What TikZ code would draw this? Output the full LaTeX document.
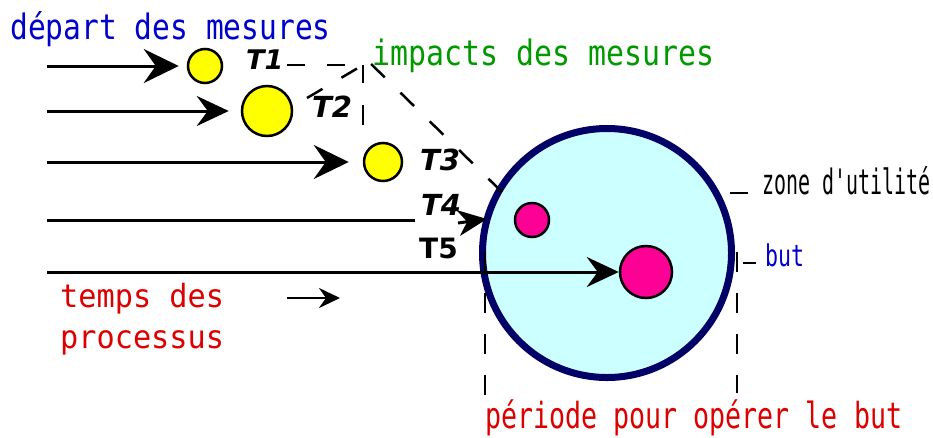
\documentclass[tikz,border=0pt]{standalone}
\usepackage{fontspec}
\usepackage{graphicx}
\usetikzlibrary{arrows.meta}
\newfontfamily\monof{DejaVu Sans Mono}
\newfontfamily\tfont{DejaVu Sans}
\definecolor{navyc}{RGB}{0,0,102}
\definecolor{lcyan}{RGB}{204,255,255}
\definecolor{magc}{RGB}{255,0,150}
\definecolor{yelc}{RGB}{255,255,0}
\definecolor{bluec}{RGB}{0,0,204}
\definecolor{greenc}{RGB}{0,153,0}
\definecolor{redc}{RGB}{221,0,0}
\newcommand\lbltxt[3]{{\fontsize{#1pt}{#1pt}\selectfont\scalebox{#2}[1]{#3}}}
\begin{document}
\begin{tikzpicture}[x=1pt,y=-1pt,
  txt/.style={anchor=base west,inner sep=0pt,font=\monof},
  tlab/.style={anchor=base west,inner sep=0pt,font=\tfont\bfseries\itshape\fontsize{29pt}{29pt}\selectfont},
  ball/.style={circle,draw=black,line width=2.5pt,inner sep=0pt},
  bigarrow/.style={line width=3pt,-{Stealth[length=35pt,width=34pt,inset=12pt]}},
  midarrow/.style={line width=3pt,-{Stealth[length=32pt,width=30pt,inset=11pt]}},
  leader/.style={line width=2.5pt,dash pattern=on 19pt off 22pt},
  tick/.style={line width=2.5pt}]
\useasboundingbox (0,0) rectangle (933,437);

% big zone circle
\node[circle,draw=navyc,line width=7pt,fill=lcyan,minimum size=249pt,inner sep=0pt] (zone) at (607,253) {};

% texts
\node[txt,text=bluec] (depart) at (10,39) {\lbltxt{35}{0.845}{départ des mesures}};
\node[txt,text=greenc] (impacts) at (372,65) {\lbltxt{35}{0.854}{impacts des mesures}};
\node[txt,text=black] (zonelbl) at (762,194) {\lbltxt{35}{0.57}{zone d'utilité}};
\node[txt,text=bluec] (butlbl) at (765,266) {\lbltxt{30}{0.72}{but}};
\node[txt,text=redc,align=left,font=\monof\fontsize{32pt}{41pt}\selectfont] (temps) at (60,348) {\scalebox{0.945}[1]{temps des}\\\scalebox{0.945}[1]{processus}};
\node[txt,text=redc] (periode) at (485,428) {\lbltxt{36}{0.74}{période pour opérer le but}};

% T labels
\node[tlab,font=\tfont\bfseries\itshape\fontsize{27pt}{27pt}\selectfont] (t1) at (246,69) {T1};
\node[tlab] (t2) at (312,117) {T2};
\node[tlab] (t3) at (420,170) {T3};
\node[tlab] (t4) at (421,215) {T4};
\node[anchor=base west,inner sep=0pt,font=\tfont\bfseries\fontsize{28pt}{28pt}\selectfont] (t5) at (419,258) {T5};

% balls
\node[ball,fill=yelc,minimum size=34pt] (b1) at (205,66) {};
\node[ball,fill=yelc,minimum size=50pt] (b2) at (267,111) {};
\node[ball,fill=yelc,minimum size=38pt] (b3) at (383,162) {};
\node[ball,fill=magc,minimum size=34pt] (m1) at (532,220) {};
\node[ball,fill=magc,minimum size=52pt] (m2) at (646,272) {};

% start coordinates
\coordinate (s1) at (47,66);
\coordinate (s2) at (47,111);
\coordinate (s3) at (47,162);
\coordinate (s4) at (47,220);
\coordinate (e4) at (415,220);
\coordinate (h4a) at (458,223);
\coordinate (h4b) at (487,219);
\coordinate (s5) at (47,272);
\coordinate (sa) at (287,298);
\coordinate (sb) at (340,298);

% arrows
\draw[bigarrow,shorten >=8pt] (s1) -- (b1.west);
\draw[midarrow,shorten >=12pt] (s2) -- (b2.west);
\draw[bigarrow,shorten >=14pt] (s3) -- (b3.west);
\draw[line width=3pt] (s4) -- (e4);
\draw[line width=3pt,-{Stealth[length=29pt,width=26pt,inset=9pt]}] (h4a) -- (h4b);
\draw[midarrow] (s5) -- (m2.west);
\draw[line width=2.5pt,-{Stealth[length=21pt,width=20pt,inset=7pt]}] (sa) -- (sb);

% dashed leaders to impacts
\coordinate (apex) at (363,65);
\coordinate (d1) at (287,65);
\coordinate (d2) at (307,98);
\coordinate (d3) at (363,125);
\coordinate (d4) at (502,192);
\coordinate (d4e) at (368,61);
\draw[leader,dash pattern=on 18pt off 22pt] (d1) -- (apex);
\draw[leader,dash pattern=on 18pt off 22pt] (d2) -- (apex);
\draw[leader,dash pattern=on 20pt off 22pt] (d3) -- (apex);
\draw[leader] (d4) -- (d4e);

% period dashed verticals
\coordinate (p1t) at (485,252);
\coordinate (p1b) at (485,395);
\coordinate (p2t) at (737,252);
\coordinate (p2b) at (737,393);
\draw[leader,dash pattern=on 20pt off 21pt] (p1t) -- (p1b);
\draw[leader,dash pattern=on 20pt off 21pt] (p2t) -- (p2b);

% short leaders
\coordinate (z1) at (730,193);
\coordinate (z2) at (748,193);
\coordinate (u1) at (743,263);
\coordinate (u2) at (756,263);
\draw[tick] (z1) -- (z2);
\draw[tick] (u1) -- (u2);
\end{tikzpicture}
\end{document}
